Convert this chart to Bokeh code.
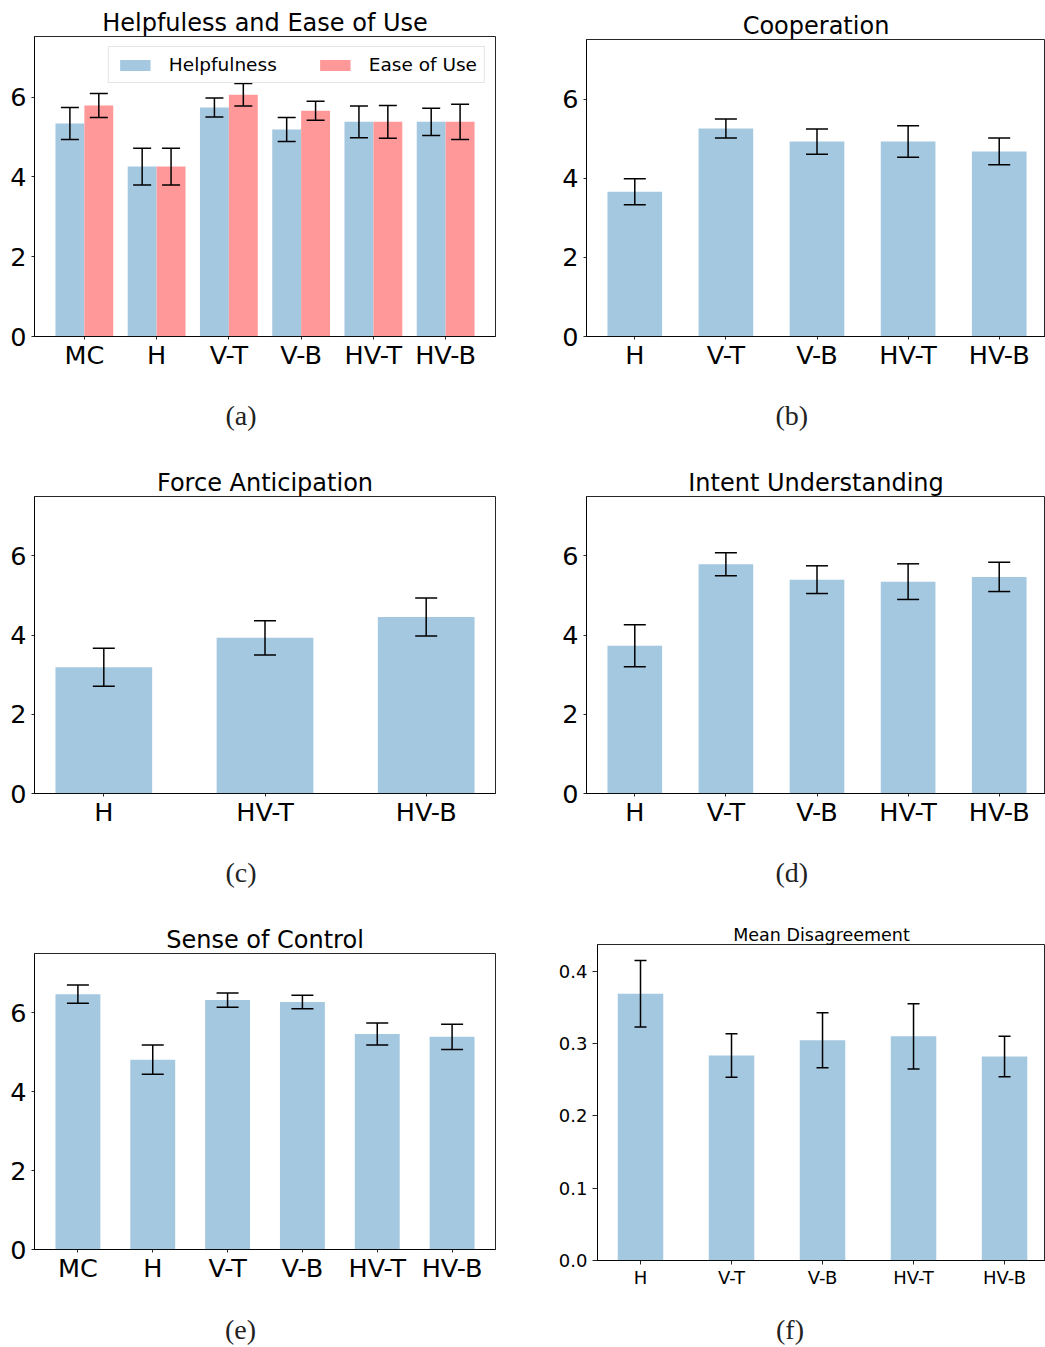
from bokeh.plotting import figure
from bokeh.models import (ColumnDataSource, Whisker, TeeHead, FixedTicker, Title,
                          PrintfTickFormatter, Range1d)
from bokeh.layouts import column, row
from bokeh.embed import file_html
from bokeh.resources import INLINE

# ---------------- data ----------------
groups6 = ["MC", "H", "V-T", "V-B", "HV-T", "HV-B"]
groups5 = ["H", "V-T", "V-B", "HV-T", "HV-B"]
groups3 = ["H", "HV-T", "HV-B"]

help_mean = [5.34, 4.26, 5.74, 5.19, 5.38, 5.38]
help_err = [0.40, 0.46, 0.24, 0.30, 0.40, 0.34]
ease_mean = [5.79, 4.26, 6.06, 5.66, 5.38, 5.38]
ease_err = [0.30, 0.46, 0.28, 0.24, 0.41, 0.44]

coop_mean = [3.66, 5.26, 4.93, 4.93, 4.68]
coop_err = [0.33, 0.24, 0.32, 0.40, 0.34]

force_mean = [3.19, 3.93, 4.46]
force_err = [0.48, 0.43, 0.48]

intent_mean = [3.73, 5.79, 5.40, 5.35, 5.47]
intent_err = [0.53, 0.29, 0.35, 0.45, 0.37]

control_mean = [6.47, 4.81, 6.32, 6.27, 5.46, 5.39]
control_err = [0.23, 0.37, 0.18, 0.17, 0.28, 0.32]

disagree_mean = [0.369, 0.2835, 0.3045, 0.310, 0.282]
disagree_err = [0.046, 0.030, 0.038, 0.045, 0.028]

BLUE = "#a5c8e1"
RED = "#ff9999"
FONT = "DejaVu Sans"
SERIF = "Liberation Serif"
CAP_SIZE = "28px"
NBSP = "\u00a0"


def base_fig(title, labels, W, H, bl, br, bt, bb, xr, y_end, title_size, tick_size,
             tick_out=3, x_standoff=0):
    p = figure(width=W, height=H, min_border_left=bl, min_border_right=br,
               min_border_top=bt, min_border_bottom=bb,
               x_range=Range1d(*xr), y_range=Range1d(0, y_end),
               output_backend="svg", toolbar_location=None, title=title)
    p.title.text_font = FONT
    p.title.text_font_size = title_size
    p.title.text_font_style = "normal"
    p.title.text_color = "black"
    p.title.align = "center"
    p.title.standoff = 0
    p.xgrid.visible = False
    p.ygrid.visible = False
    p.background_fill_color = "white"
    p.border_fill_color = "white"
    p.outline_line_color = "black"
    p.outline_line_alpha = 0.85
    p.xaxis.ticker = FixedTicker(ticks=list(range(len(labels))))
    p.xaxis.major_label_overrides = {i: lab for i, lab in enumerate(labels)}
    for ax in (p.xaxis[0], p.yaxis[0]):
        ax.axis_line_color = "black"
        ax.axis_line_alpha = 0.85
        ax.major_tick_line_color = "black"
        ax.major_tick_line_alpha = 0.85
        ax.major_tick_out = tick_out
        ax.major_tick_in = 0
        ax.minor_tick_out = 0
        ax.minor_tick_in = 0
        ax.major_label_text_font = FONT
        ax.major_label_text_font_size = tick_size
        ax.major_label_text_color = "black"
    p.xaxis.major_label_standoff = x_standoff
    p.yaxis.major_label_standoff = 5
    return p


def add_err(p, xs, means, errs, cap):
    src = ColumnDataSource(dict(x=xs,
                                upper=[m + e for m, e in zip(means, errs)],
                                lower=[m - e for m, e in zip(means, errs)]))
    w = Whisker(base="x", upper="upper", lower="lower", source=src,
                line_color="black", line_width=1.5, level="annotation",
                upper_head=TeeHead(size=cap, line_color="black", line_width=1.5),
                lower_head=TeeHead(size=cap, line_color="black", line_width=1.5))
    p.add_layout(w)


def caption(p, text, offset, standoff):
    p.add_layout(Title(text=text, align="left", offset=offset, standoff=standoff,
                       text_font=SERIF, text_font_size=CAP_SIZE, text_font_style="normal",
                       text_color="#222222"), "below")


def caption_axis(p, text, pad, standoff):
    ax = p.xaxis[0]
    ax.axis_label = text + NBSP * pad
    ax.axis_label_text_font = SERIF
    ax.axis_label_text_font_size = CAP_SIZE
    ax.axis_label_text_font_style = "normal"
    ax.axis_label_text_color = "#222222"
    ax.axis_label_standoff = standoff


def simple_panel(title, labels, means, errs, W, H, bl, br, bt, bb, xr, y_end,
                 width, cap, title_size="24px", tick_size="25.5px"):
    p = base_fig(title, labels, W, H, bl, br, bt, bb, xr, y_end, title_size, tick_size)
    xs = list(range(len(labels)))
    p.vbar(x=xs, top=means, width=width, bottom=0, fill_color=BLUE, line_color=None)
    add_err(p, xs, means, errs, cap)
    p.yaxis.ticker = FixedTicker(ticks=[0, 2, 4, 6])
    return p


# (a) Helpfulness and Ease of Use
pa = base_fig("Helpfuless and Ease of Use", groups6, 540, 458, 34, 45, 36, 122,
              (-0.69, 5.69), 7.52, "24px", "25.5px")
xa = list(range(len(groups6)))
xh = [x - 0.2 for x in xa]
xe = [x + 0.2 for x in xa]
pa.vbar(x=xh, top=help_mean, width=0.4, bottom=0, fill_color=BLUE, line_color=None,
        legend_label="Helpfulness")
pa.vbar(x=xe, top=ease_mean, width=0.4, bottom=0, fill_color=RED, line_color=None,
        legend_label="Ease of Use")
add_err(pa, xh, help_mean, help_err, 18)
add_err(pa, xe, ease_mean, ease_err, 18)
pa.yaxis.ticker = FixedTicker(ticks=[0, 2, 4, 6])
lg = pa.legend[0]
lg.orientation = "horizontal"
lg.location = "top_right"
lg.margin = 10
lg.padding = 7
lg.spacing = 39
lg.label_standoff = 15
lg.glyph_width = 38
lg.glyph_height = 14
lg.label_text_font = FONT
lg.label_text_font_size = "18.5px"
lg.label_text_color = "black"
lg.border_line_color = "#cccccc"
lg.background_fill_alpha = 0.8
caption(pa, "(a)", 191, 50)

# (b) Cooperation
pb = simple_panel("Cooperation", groups5, coop_mean, coop_err, 505, 458, 46, 0, 39, 122,
                  (-0.53, 4.508), 7.51, 0.6, 22)
caption(pb, "(b)", 189, 50)

# (c) Force Anticipation
pc = simple_panel("Force Anticipation", groups3, force_mean, force_err, 540, 457, 34, 45, 38, 122,
                  (-0.43, 2.43), 7.5, 0.6, 22)
caption(pc, "(c)", 191, 50)

# (d) Intent Understanding
pd_ = simple_panel("Intent Understanding", groups5, intent_mean, intent_err, 505, 457, 46, 0, 38, 122,
                   (-0.53, 4.508), 7.5, 0.6, 22)
caption(pd_, "(d)", 189, 50)

# (e) Sense of Control
pe = simple_panel("Sense of Control", groups6, control_mean, control_err, 540, 432, 34, 45, 38, 98,
                  (-0.58, 5.58), 7.5, 0.6, 22)
caption_axis(pe, "(e)", 7, 28)

# (f) Mean Disagreement
pf = base_fig("Mean Disagreement", groups5, 505, 432, 57, 0, 29, 87,
              (-0.4725, 4.45), 0.437, "17.5px", "18px", tick_out=4, x_standoff=2)
xf = list(range(len(groups5)))
pf.vbar(x=xf, top=disagree_mean, width=0.5, bottom=0, fill_color=BLUE, line_color=None)
add_err(pf, xf, disagree_mean, disagree_err, 12)
pf.yaxis.ticker = FixedTicker(ticks=[0.0, 0.1, 0.2, 0.3, 0.4])
pf.yaxis.formatter = PrintfTickFormatter(format="%.1f")
pf.yaxis.major_tick_out = 5
caption_axis(pf, "(f)", 9, 23)

layout = column(row(column(pa), column(pb)),
                row(column(pc), column(pd_)),
                row(column(pe), column(pf)))
open("out.html", "w").write(file_html(layout, INLINE))
